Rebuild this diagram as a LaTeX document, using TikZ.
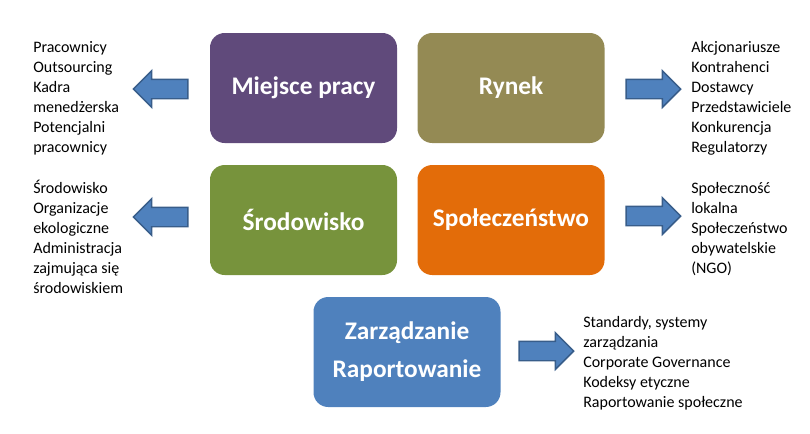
\documentclass[tikz,border=0pt]{standalone}
\usepackage{fontspec}
\setmainfont{Carlito}
\usepackage{tikz}
\usetikzlibrary{shapes,positioning}
\definecolor{fioletowy}{RGB}{96, 74, 123}
\definecolor{oliwkowy}{RGB}{148, 138, 84}
\definecolor{zielony}{RGB}{119, 147, 60}
\definecolor{pomaranczowy}{RGB}{227, 108, 9}
\definecolor{niebieski}{RGB}{79, 129, 189}
\definecolor{niebieskiCiemny}{RGB}{56, 93, 138}
\tikzstyle{pole}    =[rectangle, rounded corners=11pt, inner sep=0pt,
                      minimum width=140.25pt, minimum height=82.5pt,
                      text=white, align=center,
                      font=\fontsize{19}{28.5}\selectfont\bfseries]
\tikzstyle{strzalka}=[single arrow, draw=niebieskiCiemny, fill=niebieski,
                      line width=1.1pt, inner sep=0pt, inner ysep=6.75pt,
                      minimum height=41pt, single arrow head extend=6.4pt]
\tikzstyle{lista}   =[anchor=north west, align=left, inner sep=0pt,
                      font=\fontsize{12}{15}\selectfont]

\begin{document}
\begin{tikzpicture}[x=0.75pt,y=-0.75pt]
    \useasboundingbox (0,0) rectangle (810,433);

    \draw (303.5,88) node (miejsce) [pole,fill=fioletowy] {Miejsce pracy};
    \draw (511,88) node (rynek) [pole,fill=oliwkowy] {Rynek};
    \draw (303.5,220) node (srodowisko) [pole,fill=zielony] {Środowisko};
    \draw (511,220) node (spoleczenstwo) [pole,fill=pomaranczowy] {Społeczeństwo};
    \draw (407,352) node (zarzadzanie) [pole,fill=niebieski] {Zarządzanie\\Raportowanie};

    \draw (165.5,89) node (s1) [strzalka,shape border rotate=180] {};
    \draw (165.5,217) node (s2) [strzalka,shape border rotate=180] {};
    \draw (648.5,89) node (s3) [strzalka] {};
    \draw (648.5,216) node (s4) [strzalka] {};
    \draw (541.5,351) node (s5) [strzalka] {};

    \draw (33,38) node (l1) [lista] {\strut Pracownicy\\Outsourcing\\Kadra\\menedżerska\\Potencjalni\\pracownicy};
    \draw (33,179) node (l2) [lista] {\strut Środowisko\\Organizacje\\ekologiczne\\Administracja\\zajmująca się\\środowiskiem};
    \draw (691,38) node (p1) [lista] {\strut Akcjonariusze\\Kontrahenci\\Dostawcy\\Przedstawiciele\\Konkurencja\\Regulatorzy};
    \draw (691,179) node (p2) [lista] {\strut Społeczność\\lokalna\\Społeczeństwo\\obywatelskie\\(NGO)};
    \draw (583,313) node (d1) [lista] {\strut Standardy, systemy\\zarządzania\\Corporate Governance\\Kodeksy etyczne\\Raportowanie społeczne};

\end{tikzpicture}
\end{document}
